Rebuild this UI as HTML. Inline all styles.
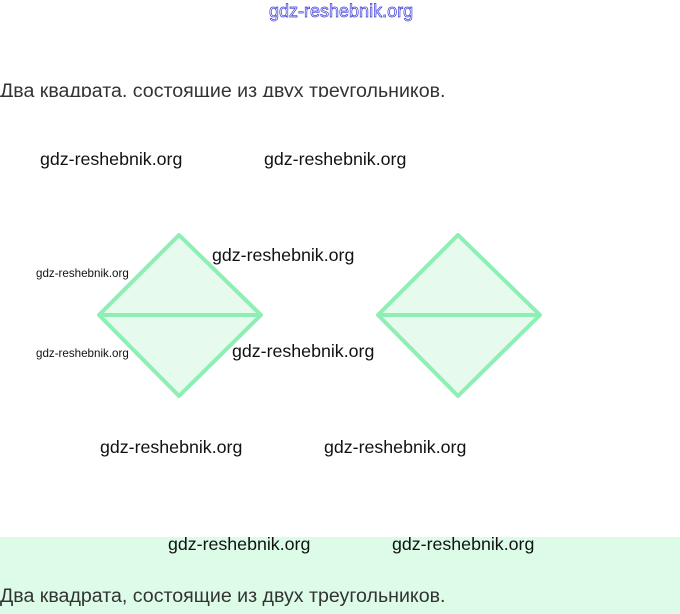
<!DOCTYPE html>
<html><head><meta charset="utf-8"><style>
html,body{margin:0;padding:0;width:680px;height:614px;overflow:hidden;background:#fff;position:relative;font-family:"Liberation Sans",sans-serif}
.w{position:absolute;font-size:17.8px;line-height:18px;color:#111;white-space:nowrap}
.s{position:absolute;font-size:11.6px;line-height:12px;color:#111;white-space:nowrap}
.t{position:absolute;font-size:19.6px;line-height:22px;color:#333;white-space:nowrap}
</style></head><body>
<div style="position:absolute;left:269px;top:1px;font-size:18px;line-height:20px;color:#fff;-webkit-text-stroke:0.7px #3a3ad8;white-space:nowrap">gdz-reshebnik.org</div>
<div style="position:absolute;left:0;top:78px;width:680px;height:19px;overflow:hidden"><div class="t" style="left:0;top:2px">Два квадрата, состоящие из двух треугольников.</div></div>
<div class="w" style="left:40px;top:150px">gdz-reshebnik.org</div>
<div class="w" style="left:264px;top:150px">gdz-reshebnik.org</div>
<svg style="position:absolute;left:0;top:0" width="680" height="614">
<g fill="#e6fbee" stroke="#8eefb4" stroke-width="4" stroke-linejoin="round">
<polygon points="179,235 261,315 179,396 99,315"/>
<line x1="99" y1="315" x2="261" y2="315"/>
<polygon points="458,235 540,315 458,396 378,315"/>
<line x1="378" y1="315" x2="540" y2="315"/>
</g>
</svg>
<div class="w" style="left:212px;top:246px">gdz-reshebnik.org</div>
<div class="s" style="left:36px;top:268px">gdz-reshebnik.org</div>
<div class="w" style="left:232px;top:342px">gdz-reshebnik.org</div>
<div class="s" style="left:36px;top:348px">gdz-reshebnik.org</div>
<div class="w" style="left:100px;top:438px">gdz-reshebnik.org</div>
<div class="w" style="left:324px;top:438px">gdz-reshebnik.org</div>
<div style="position:absolute;left:0;top:537px;width:680px;height:77px;background:#dcfce8"></div>
<div class="w" style="left:168px;top:535px">gdz-reshebnik.org</div>
<div class="w" style="left:392px;top:535px">gdz-reshebnik.org</div>
<div class="t" style="left:0;top:585px">Два квадрата, состоящие из двух треугольников.</div>
</body></html>
